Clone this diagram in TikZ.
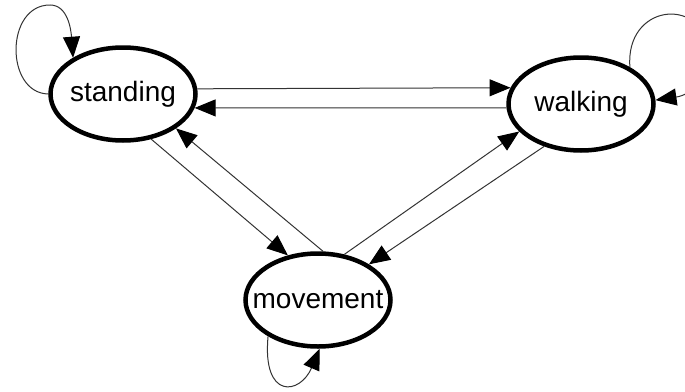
\documentclass[tikz,border=0pt]{standalone}
\usepackage{fontspec}
\setmainfont{Liberation Sans}
\usetikzlibrary{shapes.geometric,arrows.meta}

% state label of fixed size: the text does not widen the ellipse
\newcommand{\statelabel}[1]{\makebox[0pt][c]{#1}}

\tikzset{
  state/.style={ellipse, draw=black, line width=4.5pt, fill=white,
    minimum width=145pt, minimum height=93pt, inner sep=0pt,
    font=\fontsize{28}{30}\selectfont},
  trans/.style={draw=black!80, line width=1pt,
    -{Triangle[length=21pt,width=17pt,color=black]}},
}

\begin{document}
\begin{tikzpicture}[x=1pt,y=-1pt]
  \useasboundingbox (0,0) rectangle (685,391);
  \clip (0,0) rectangle (685,391);

  % states
  \node[state] (s) at (123,94) {\statelabel{standing}};
  \node[state] (w) at (581,104) {\statelabel{walking}};
  \node[state] (m) at (318,300) {\statelabel{movement}};

  % transitions between states
  \draw[trans] (s.4.6)  -- (w.167.6);
  \draw[trans] (w.183.8) -- (s.-11.3);
  \draw[trans] (s.-58.5) -- (m.124.9);
  \draw[trans] (m.84)   -- (s.-33.2);
  \draw[trans] (m.60.1) -- (w.204.7);
  \draw[trans] (w.229.2) -- (m.35);

  % self loops
  \draw[trans] (s.180) .. controls (5,93) and (5,5) .. (50,5)
                       .. controls (68,5) and (71,30) .. (s.144);
  \draw[trans] (w.37.4) .. controls (625,5) and (700,-5) .. (710,50)
                        .. controls (712,80) and (690,95) .. (w.3);
  \draw[trans] (m.216.5) .. controls (262,400) and (300,395) .. (m.272);
\end{tikzpicture}
\end{document}
